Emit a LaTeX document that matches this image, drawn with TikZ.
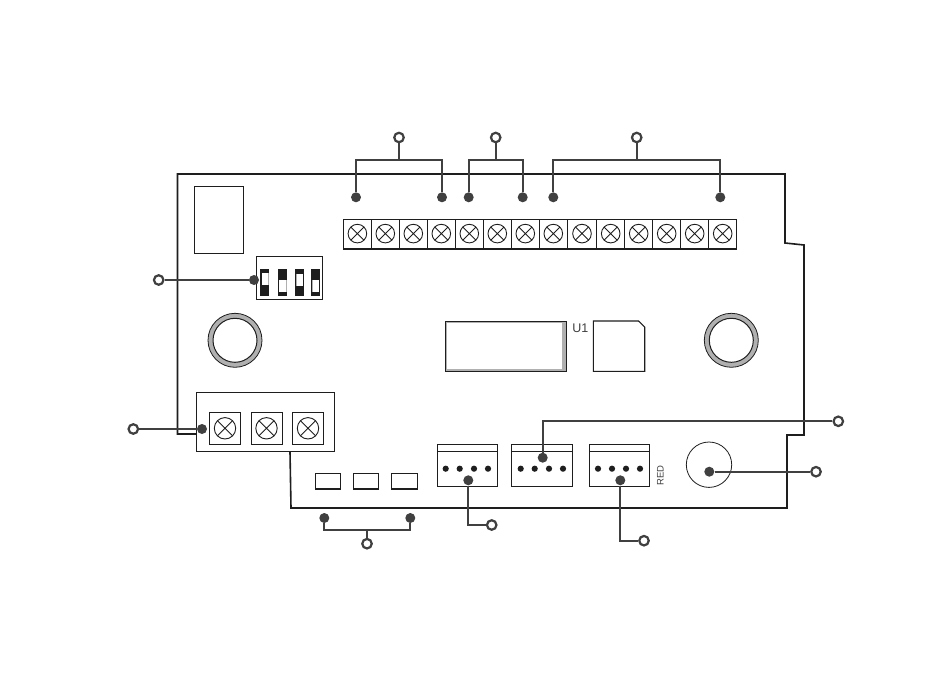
\documentclass[tikz,border=0pt]{standalone}
\usepackage{fontspec}
\setmainfont{Liberation Sans}
\definecolor{ink}{HTML}{1E1E1E}
\definecolor{lead}{HTML}{404040}
\definecolor{ringgray}{HTML}{B0B0B0}
\tikzset{
  x=1pt,y=-1pt,
  board/.style={draw=ink,line width=1.6pt,line join=miter},
  part/.style={draw=ink,line width=1.1pt},
  thick part/.style={draw=ink,line width=1.4pt},
  conn/.style={draw=lead,line width=2.3pt},
  fdot/.style={circle,fill=lead,draw=none,minimum size=10pt,inner sep=0pt},
  odot/.style={circle,fill=white,draw=lead,line width=2.2pt,minimum size=9.5pt,inner sep=0pt},
  lbl/.style={inner sep=0pt,text=lead},
  screwhead/.pic={
    \draw[draw=ink,line width=.9pt] (0,0) circle[radius=#1];
    \draw[draw=ink,line width=.9pt] (-.707*#1,-.707*#1) -- (.707*#1,.707*#1)
       (-.707*#1,.707*#1) -- (.707*#1,-.707*#1);
  }
}
\begin{document}
\begin{tikzpicture}
\useasboundingbox (0,0) rectangle (950,687);
\fill[white] (0,0) rectangle (950,687);

% board outline
\draw[board] (196,434) -- (177.5,434) -- (177.5,174) -- (785,174) -- (785,243) -- (804,245)
  -- (804,435) -- (787,435) -- (787,508) -- (291,508) -- (290,452);

% relay
\draw[part] (194.3,186.3) rectangle (243.3,253.3);

% DIP switch
\draw[part] (256.3,256.7) rectangle (322.3,299.3);
\foreach \a/\t/\g in {260.3/273.3/8.0,278/280/8.0,295/274/1.2,311/280/1.2}{
  \fill[ink] (\a,269) rectangle ++(9,26.8);
  \fill[white] (\a+1.4,\t) rectangle ++(6.2,12);
  \draw[draw=ringgray,line width=.9pt] (\a+\g,\t) -- ++(0,12);
}

% mounting holes
\foreach \c in {235,731.3}{
  \draw[draw=ink,line width=.8pt,fill=ringgray] (\c,340.3) circle[radius=27];
  \draw[draw=ink,line width=1pt,fill=white] (\c,340.3) circle[radius=22];
}

% upper terminal strip
\draw[part] (343.5,219.5) rectangle (736.7,249);
\foreach \x in {371.3,399.3,427.3,455.3,483.3,511.3,539.3,567.3,596.7,624.7,652.7,680.7,708.7}
  \draw[part] (\x,219.5) -- (\x,249);
\foreach \x in {357.4,385.3,413.3,441.3,469.3,497.3,525.3,553.3,582,610.7,638.7,666.7,694.7,722.7}
  \pic at (\x,233.6) {screwhead=9.3};

% display and chip
\fill[ringgray] (445,321.7) rectangle (566,371.3);
\fill[white] (446.7,323.3) rectangle (562.3,369.3);
\draw[draw=ink,line width=.9pt] (445,321.7) rectangle (566,371.3);
\draw[part] (593.3,321) -- (638.5,321) -- (644.7,327) -- (644.7,371.3) -- (593.3,371.3) -- cycle;
\node[lbl,font=\fontsize{12.5pt}{14pt}\selectfont] (u1) at (580.3,328.3) {U1};

% lower terminal block
\draw[part,fill=white] (196.3,392.3) rectangle (334.3,451.3);
\foreach \a/\c in {209.3/225,251.3/266.5,292.3/308}{
  \draw[part] (\a,412.3) rectangle ++(31.4,32);
  \pic at (\c,428.3) {screwhead=10.7};
}

% small rectangles
\foreach \a/\b in {315.3/340.7,353.3/378.7,391.3/417.7}{
  \draw[part] (\a,473.3) rectangle (\b,489.3);
  \draw[draw=ink,line width=1.8pt] (\a,489) -- (\b,489);
}

% connectors (headers)
\foreach \a/\b/\pa/\pb/\pc/\pd in {437.3/497.7/445.7/459.7/474/488,
    511.7/572.7/520.7/534.7/549/563,
    589.3/649.7/598/612/626/640}{
  \draw[part] (\a,444.3) rectangle (\b,486.3);
  \draw[thick part] (\a,451.5) -- (\b,451.5);
  \foreach \p in {\pa,\pb,\pc,\pd}
    \fill[ink] (\p,468.7) circle[radius=3.1];
}
\node[lbl,rotate=90,font=\fontsize{9.5pt}{11pt}\selectfont] (red) at (660.3,475.7) {RED};

% buzzer
\draw[draw=ink,line width=.8pt] (709,464.7) circle[radius=22.7];

% callout dots
\node[fdot] (d1a) at (356,197.3) {};
\node[fdot] (d1b) at (442,197.3) {};
\node[fdot] (d2a) at (468.7,197.3) {};
\node[fdot] (d2b) at (522.7,197.3) {};
\node[fdot] (d3a) at (553.3,197.3) {};
\node[fdot] (d3b) at (720.3,197.3) {};
\node[fdot] (dip) at (254,280) {};
\node[fdot] (blk) at (202,429) {};
\node[fdot] (l1) at (324.3,518) {};
\node[fdot] (l2) at (410.3,518) {};
\node[fdot] (j1) at (468.3,480.3) {};
\node[fdot] (j2) at (542.7,457.7) {};
\node[fdot] (j3) at (620.3,480.3) {};
\node[fdot] (bz) at (709.3,471.7) {};

\node[odot] (o1) at (399,137.5) {};
\node[odot] (o2) at (495.7,137.5) {};
\node[odot] (o3) at (636.7,137.5) {};
\node[odot] (odip) at (158.7,280) {};
\node[odot] (oblk) at (133.3,429) {};
\node[odot] (ol) at (367,543.7) {};
\node[odot] (oj1) at (491.7,525) {};
\node[odot] (oj2) at (838.3,421.3) {};
\node[odot] (oj3) at (644,540.7) {};
\node[odot] (obz) at (816,471.7) {};

% bracket junctions
\coordinate (b1) at (399,160);
\coordinate (b2) at (495.7,160);
\coordinate (b3) at (636.7,160);
\coordinate (bl) at (367,529.7);

\draw[conn,line join=miter] (d1a) |- (b1) -| (d1b);
\draw[conn] (o1) -- (b1);
\draw[conn,line join=miter] (d2a) |- (b2) -| (d2b);
\draw[conn] (o2) -- (b2);
\draw[conn,line join=miter] (d3a) |- (b3) -| (d3b);
\draw[conn] (o3) -- (b3);
\draw[conn,line join=miter] (l1) |- (bl) -| (l2);
\draw[conn] (ol) -- (bl);
\draw[conn] (odip) -- (dip);
\draw[conn] (oblk) -- (blk);
\draw[conn,line join=miter] (j1) |- (oj1);
\draw[conn,line join=miter] (j2) |- (oj2);
\draw[conn,line join=miter] (j3) |- (oj3);
\draw[conn] (bz) -- (obz);
\end{tikzpicture}
\end{document}
